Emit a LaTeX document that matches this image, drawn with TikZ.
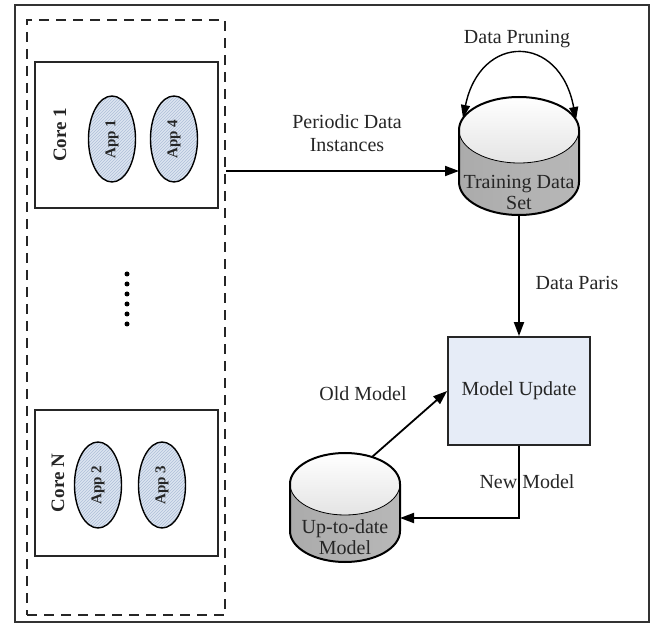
\documentclass[tikz,border=0pt]{standalone}
\usepackage{fontspec}
\setmainfont{Liberation Serif}
\usetikzlibrary{arrows.meta,patterns,shapes.geometric}
\definecolor{mlInk}{HTML}{262626}
\definecolor{mlAppFill}{HTML}{DCE5F1}
\definecolor{mlAppHatch}{HTML}{AEBFD8}
\definecolor{mlBoxFill}{HTML}{E6ECF7}
\definecolor{mlDrumDark}{HTML}{ABABAB}
\definecolor{mlDrumMid}{HTML}{DDDDDD}
\definecolor{mlDrumTop}{HTML}{E4E4E4}
\tikzset{
  ml frame/.style={draw=black!80, line width=2pt},
  ml pool/.style={draw=black!85, line width=2.5pt, dash pattern=on 10pt off 7pt, minimum width=198pt, minimum height=595pt, inner sep=0pt},
  ml core/.style={draw=black!85, line width=1.5pt, minimum width=183pt, minimum height=146pt, inner sep=0pt},
  ml core label/.style={rotate=90, font=\fontsize{19}{21}\selectfont\bfseries, text=mlInk},
  ml app/.style={ellipse, draw=black, line width=1.4pt, preaction={fill=mlAppFill}, pattern=north east lines, pattern color=mlAppHatch, minimum width=86pt, minimum height=47pt, inner sep=0pt, rotate=90, font=\fontsize{15}{17}\selectfont\bfseries, text=mlInk},
  ml label/.style={font=\fontsize{20}{23}\selectfont, text=mlInk, align=center},
  ml drum text/.style={font=\fontsize{20}{21}\selectfont, text=mlInk, align=center},
  ml update/.style={draw=black!85, line width=1.8pt, fill=mlBoxFill, minimum width=142pt, minimum height=108pt, font=\fontsize{20}{23}\selectfont, text=mlInk},
  ml flow/.style={draw=black, line width=1.8pt, -{Triangle[length=14pt,width=10pt]}},
  ml dot/.style={fill=black},
}

\begin{document}
\begin{tikzpicture}[x=1pt,y=1pt]
  \useasboundingbox (0,0) rectangle (665,625);
  \draw[ml frame] (15,3) rectangle (649,620);

  % cores and their apps
  \node[ml pool] (pool) at (126,307.5) {};
  \node[ml core] (core1) at (126.5,490) {};
  \node[ml core] (coreN) at (126.5,142) {};
  \node[ml core label] (core1 txt) at (60,490) {Core 1};
  \node[ml core label] (coreN txt) at (58,142) {Core N};
  \node[ml app] (app1) at (112,486) {App 1};
  \node[ml app] (app4) at (174,486) {App 4};
  \node[ml app] (app2) at (98,140) {App 2};
  \node[ml app] (app3) at (162,140) {App 3};
  \foreach \y in {301,311,...,351}
    \fill[ml dot] (127,\y) circle (2.5pt);

  % data stores
  \foreach \nm/\cx/\ty/\by/\rx/\ry in {train/519/495/443/60/33, model/345/141/94/55/31}{
    \shade[left color=mlDrumDark, middle color=mlDrumMid, right color=mlDrumDark!85!white]
      (\cx-\rx,\ty) -- (\cx-\rx,\by) arc[start angle=180, end angle=360, x radius=\rx, y radius=\ry] -- (\cx+\rx,\ty) -- cycle;
    \shade[top color=white, bottom color=mlDrumTop] (\cx,\ty) ellipse [x radius=\rx, y radius=\ry];
    \draw[line width=0.8pt] (\cx-\rx,\ty) arc[start angle=180, end angle=360, x radius=\rx, y radius=\ry];
    \draw[line width=2pt] (\cx-\rx,\ty) -- (\cx-\rx,\by) arc[start angle=180, end angle=360, x radius=\rx, y radius=\ry]
      -- (\cx+\rx,\ty) arc[start angle=0, end angle=180, x radius=\rx, y radius=\ry];
    \coordinate (\nm-bot) at (\cx,\by-\ry);
  }
  \node[ml drum text] (train) at (519,432.5) {Training Data\\Set};
  \node[ml drum text] (model) at (345,87.5) {Up-to-date\\Model};
  \coordinate (train-in) at (459,454);
  \coordinate (prune-l) at (463,507);
  \coordinate (prune-r) at (576,505);
  \coordinate (model-top) at (372,168);
  \coordinate (model-in) at (400,107);

  \node[ml update] (upd) at (519,234) {Model Update};

  % flows
  \draw[ml flow] (pool.east |- train-in) -- (train-in);
  \draw[ml flow, {Triangle[length=13pt,width=9pt]}-{Triangle[length=13pt,width=9pt]}, line width=1.4pt]
    (prune-l) .. controls (480,592) and (560,592) .. (prune-r);
  \draw[ml flow] (train-bot) -- (upd.north);
  \draw[ml flow] (model-top) -- (upd.west);
  \draw[ml flow] (upd.south) |- (model-in);

  \node[ml label] (periodic) at (347,491.5) {Periodic Data\\Instances};
  \node[ml label] (pruning) at (517,586) {Data Pruning};
  \node[ml label] (pairs) at (577,342) {Data Paris};
  \node[ml label] (old) at (363,231) {Old Model};
  \node[ml label] (new) at (527,143) {New Model};
\end{tikzpicture}
\end{document}
